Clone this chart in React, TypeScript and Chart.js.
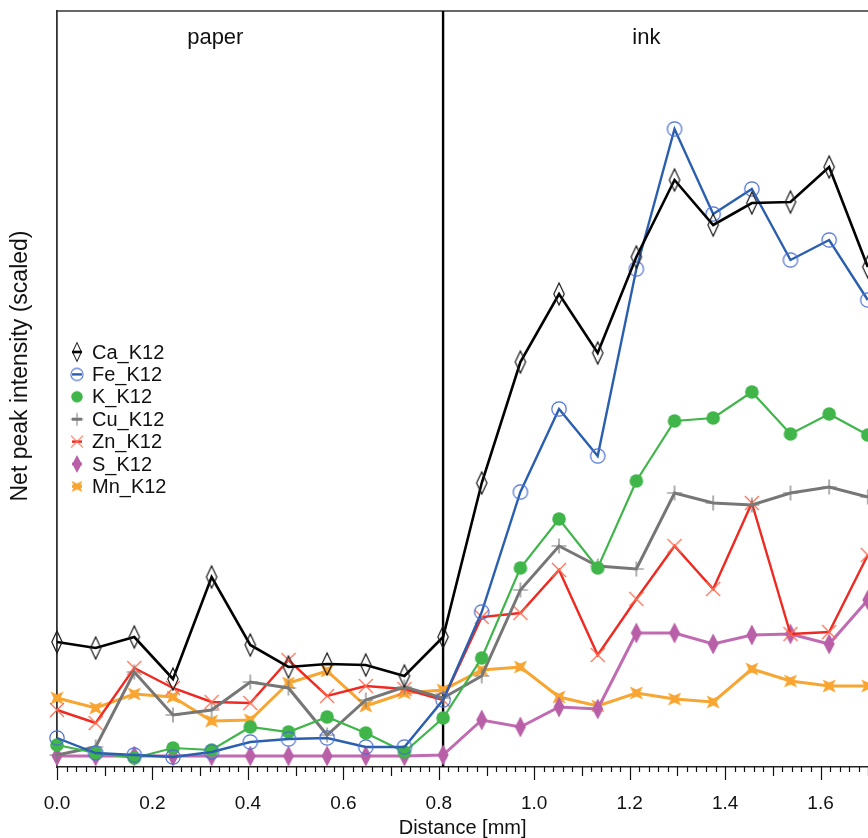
import React, { useEffect, useRef } from 'react';
import { Chart, registerables } from 'chart.js';

Chart.register(...registerables);

// ---------- data ----------
const distances = [0.0, 0.081, 0.162, 0.243, 0.324, 0.405, 0.485, 0.566, 0.647, 0.728, 0.809,
  0.89, 0.971, 1.052, 1.133, 1.214, 1.294, 1.375, 1.456, 1.537, 1.618, 1.699];

const caK12 = [124, 118, 129, 87, 189, 121, 99, 102, 101, 90, 129, 283, 404, 472, 413, 509, 586, 541, 563, 564, 599, 499];
const feK12 = [28, 13, 11, 9, 14, 24, 27, 28, 19, 19, 66, 154, 274, 357, 310, 497, 637, 552, 577, 506, 526, 466];
const kK12 = [21, 13, 8, 18, 16, 39, 34, 49, 33, 14, 48, 108, 198, 247, 198, 285, 345, 348, 374, 332, 352, 331];
const cuK12 = [11, 19, 94, 51, 56, 84, 78, 31, 66, 79, 68, 90, 176, 220, 200, 197, 273, 263, 261, 273, 279, 269];
const znK12 = [56, 43, 98, 78, 64, 63, 106, 70, 80, 77, 66, 149, 153, 196, 111, 167, 220, 177, 263, 132, 134, 211];
const sK12 = [10, 10, 10, 10, 10, 10, 10, 10, 10, 10, 11, 46, 39, 59, 57, 133, 133, 122, 131, 132, 122, 166];
const mnK12 = [68, 58, 72, 69, 45, 46, 83, 95, 60, 73, 76, 96, 99, 69, 60, 73, 67, 64, 97, 85, 80, 80];

const seriesNames = ['Ca_K12', 'Fe_K12', 'K_K12', 'Cu_K12', 'Zn_K12', 'S_K12', 'Mn_K12'];
const xTickValues = [0.0, 0.2, 0.4, 0.6, 0.8, 1.0, 1.2, 1.4, 1.6];
const xTickLabels = ['0.0', '0.2', '0.4', '0.6', '0.8', '1.0', '1.2', '1.4', '1.6'];
const boundaryDistance = 0.809;
const regionLabels = ['paper', 'ink'];
const xAxisTitle = 'Distance [mm]';
const yAxisTitle = 'Net peak intensity (scaled)';

const FONT = "'Liberation Sans', Arial, sans-serif";

type MarkerKind = 'diamondOpen' | 'circleOpen' | 'circleFilled' | 'plus' | 'cross' | 'diamondFilled' | 'star';

function makeMarker(kind: MarkerKind, s = 1): HTMLCanvasElement {
  const c = document.createElement('canvas');
  const W = 28;
  c.width = W;
  c.height = W;
  const ctx = c.getContext('2d')!;
  ctx.translate(W / 2, W / 2);
  ctx.scale(s, s);
  ctx.beginPath();
  switch (kind) {
    case 'diamondOpen':
      ctx.moveTo(0, -11); ctx.lineTo(5.2, 0); ctx.lineTo(0, 11); ctx.lineTo(-5.2, 0); ctx.closePath();
      ctx.strokeStyle = '#1a1a1a'; ctx.lineWidth = 1.2; ctx.stroke();
      break;
    case 'circleOpen':
      ctx.arc(0, 0, 7.2, 0, Math.PI * 2);
      ctx.strokeStyle = '#4a6fd2'; ctx.lineWidth = 1.2; ctx.stroke();
      break;
    case 'circleFilled':
      ctx.arc(0, 0, 6.8, 0, Math.PI * 2);
      ctx.fillStyle = '#3fb54a'; ctx.fill();
      break;
    case 'plus':
      ctx.moveTo(-7.5, 0); ctx.lineTo(7.5, 0); ctx.moveTo(0, -7.5); ctx.lineTo(0, 7.5);
      ctx.strokeStyle = '#7a7a7a'; ctx.lineWidth = 1.2; ctx.stroke();
      break;
    case 'cross':
      ctx.moveTo(-7, -7); ctx.lineTo(7, 7); ctx.moveTo(7, -7); ctx.lineTo(-7, 7);
      ctx.strokeStyle = '#ff6a4f'; ctx.lineWidth = 1.2; ctx.stroke();
      break;
    case 'diamondFilled':
      ctx.moveTo(0, -10.5); ctx.lineTo(5.5, 0); ctx.lineTo(0, 10.5); ctx.lineTo(-5.5, 0); ctx.closePath();
      ctx.fillStyle = '#b85fa8'; ctx.fill();
      break;
    case 'star':
      ctx.moveTo(-6.5, -6.5); ctx.lineTo(0, -3.5); ctx.lineTo(6.5, -6.5); ctx.lineTo(3.5, 0);
      ctx.lineTo(6.5, 6.5); ctx.lineTo(0, 3.5); ctx.lineTo(-6.5, 6.5); ctx.lineTo(-3.5, 0); ctx.closePath();
      ctx.fillStyle = '#f9a532'; ctx.fill();
      break;
  }
  return c;
}

const seriesValues = [caK12, feK12, kK12, cuK12, znK12, sK12, mnK12];
const lineColors = ['#000000', '#2a5fb0', '#3fb54a', '#767676', '#ee2a22', '#c06ab2', '#f8a632'];
const lineWidths = [2.6, 2.4, 2.2, 3, 2.4, 3, 3];
const markerKinds: MarkerKind[] = ['diamondOpen', 'circleOpen', 'circleFilled', 'plus', 'cross', 'diamondFilled', 'star'];

export default function App() {
  const ref = useRef<HTMLCanvasElement | null>(null);

  useEffect(() => {
    if (!ref.current) return;
    const markers = markerKinds.map((k) => makeMarker(k));
    const legendMarkers = markerKinds.map((k) => makeMarker(k, 0.85));

    const decor = {
      id: 'decor',
      beforeDatasetsDraw(chart: any) {
        const { ctx, chartArea } = chart;
        const xs = chart.scales.x;
        ctx.save();
        ctx.strokeStyle = '#333';
        ctx.lineWidth = 1.5;
        ctx.beginPath();
        ctx.moveTo(chartArea.left, chartArea.top);
        ctx.lineTo(chartArea.right, chartArea.top);
        ctx.stroke();
        const bx = xs.getPixelForValue(boundaryDistance);
        ctx.strokeStyle = '#000';
        ctx.lineWidth = 2.4;
        ctx.beginPath();
        ctx.moveTo(bx, chartArea.top);
        ctx.lineTo(bx, chartArea.bottom);
        ctx.stroke();
        ctx.restore();
      },
      afterDraw(chart: any) {
        const { ctx, chartArea } = chart;
        const xs = chart.scales.x;
        ctx.save();
        ctx.strokeStyle = '#111';
        ctx.lineWidth = 1.2;
        const n = Math.round(xs.max / 0.02);
        for (let i = 0; i <= n; i++) {
          const v = i * 0.02;
          const px = Math.round(xs.getPixelForValue(v)) + 0.5;
          const len = i % 10 === 0 ? 13 : i % 5 === 0 ? 9 : 5;
          ctx.beginPath();
          ctx.moveTo(px, chartArea.bottom);
          ctx.lineTo(px, chartArea.bottom + len);
          ctx.stroke();
        }
        ctx.fillStyle = '#111';
        ctx.font = `22px ${FONT}`;
        ctx.textAlign = 'center';
        ctx.textBaseline = 'alphabetic';
        const bx = xs.getPixelForValue(boundaryDistance);
        ctx.fillText(regionLabels[0], chartArea.left + (bx - chartArea.left) * 0.41, 44);
        ctx.fillText(regionLabels[1], xs.getPixelForValue(1.235), 44);
        ctx.font = `20px ${FONT}`;
        ctx.textBaseline = 'middle';
        ctx.fillText(xAxisTitle, xs.getPixelForValue(0.85), 828);
        ctx.save();
        ctx.translate(21, 366);
        ctx.rotate(-Math.PI / 2);
        ctx.font = `23px ${FONT}`;
        ctx.fillText(yAxisTitle, 0, 0);
        ctx.restore();
        ctx.font = `20px ${FONT}`;
        ctx.textAlign = 'left';
        ctx.textBaseline = 'middle';
        seriesNames.forEach((name, i) => {
          const y = 352 + i * 22.4;
          const mx = 77;
          ctx.strokeStyle = lineColors[i];
          ctx.lineWidth = lineWidths[i];
          ctx.beginPath();
          ctx.moveTo(mx - 5, y);
          ctx.lineTo(mx + 5, y);
          ctx.stroke();
          const m = legendMarkers[i];
          ctx.drawImage(m, mx - m.width / 2, y - m.height / 2);
          ctx.fillStyle = '#111';
          ctx.fillText(name, 92, y + 1);
        });
        ctx.restore();
      },
    };

    const chart = new Chart(ref.current, {
      type: 'line',
      data: {
        datasets: seriesNames.map((name, i) => ({
          label: name,
          data: distances.map((d, j) => ({ x: d, y: seriesValues[i][j] })),
          borderColor: lineColors[i],
          borderWidth: lineWidths[i],
          pointStyle: markers[i] as any,
          pointRadius: 7,
          pointHoverRadius: 7,
          tension: 0,
          fill: false,
          clip: 20,
        })),
      },
      options: {
        animation: false,
        responsive: false,
        maintainAspectRatio: false,
        events: [],
        layout: { padding: { top: 11, right: 4, left: 0, bottom: 0 } },
        plugins: {
          legend: { display: false },
          tooltip: { enabled: false },
          title: { display: false },
        },
        scales: {
          x: {
            type: 'linear',
            min: 0,
            max: 1.8,
            afterBuildTicks: (s: any) => {
              s.ticks = xTickValues.map((v) => ({ value: v }));
            },
            afterFit: (s: any) => {
              s.height = 71;
            },
            ticks: {
              autoSkip: false,
              maxRotation: 0,
              padding: 25,
              color: '#111',
              font: { family: FONT, size: 19 },
              callback: (value: any) => {
                const i = xTickValues.findIndex((t) => Math.abs(t - Number(value)) < 1e-6);
                return i >= 0 ? xTickLabels[i] : '';
              },
            },
            grid: { display: false, drawTicks: false },
            border: { display: true, color: '#222', width: 1.5 },
          },
          y: {
            type: 'linear',
            min: -1,
            max: 755,
            afterFit: (s: any) => {
              s.width = 57;
            },
            ticks: { display: false },
            grid: { display: false, drawTicks: false },
            border: { display: true, color: '#333', width: 1.8 },
          },
        },
      },
      plugins: [decor],
    });
    return () => chart.destroy();
  }, []);

  return (
    <div style={{ position: 'fixed', left: 0, top: 0, width: 868, height: 838, overflow: 'hidden', background: '#fff' }}>
      <canvas ref={ref} width={926} height={838} style={{ display: 'block', width: 926, height: 838 }} />
    </div>
  );
}
